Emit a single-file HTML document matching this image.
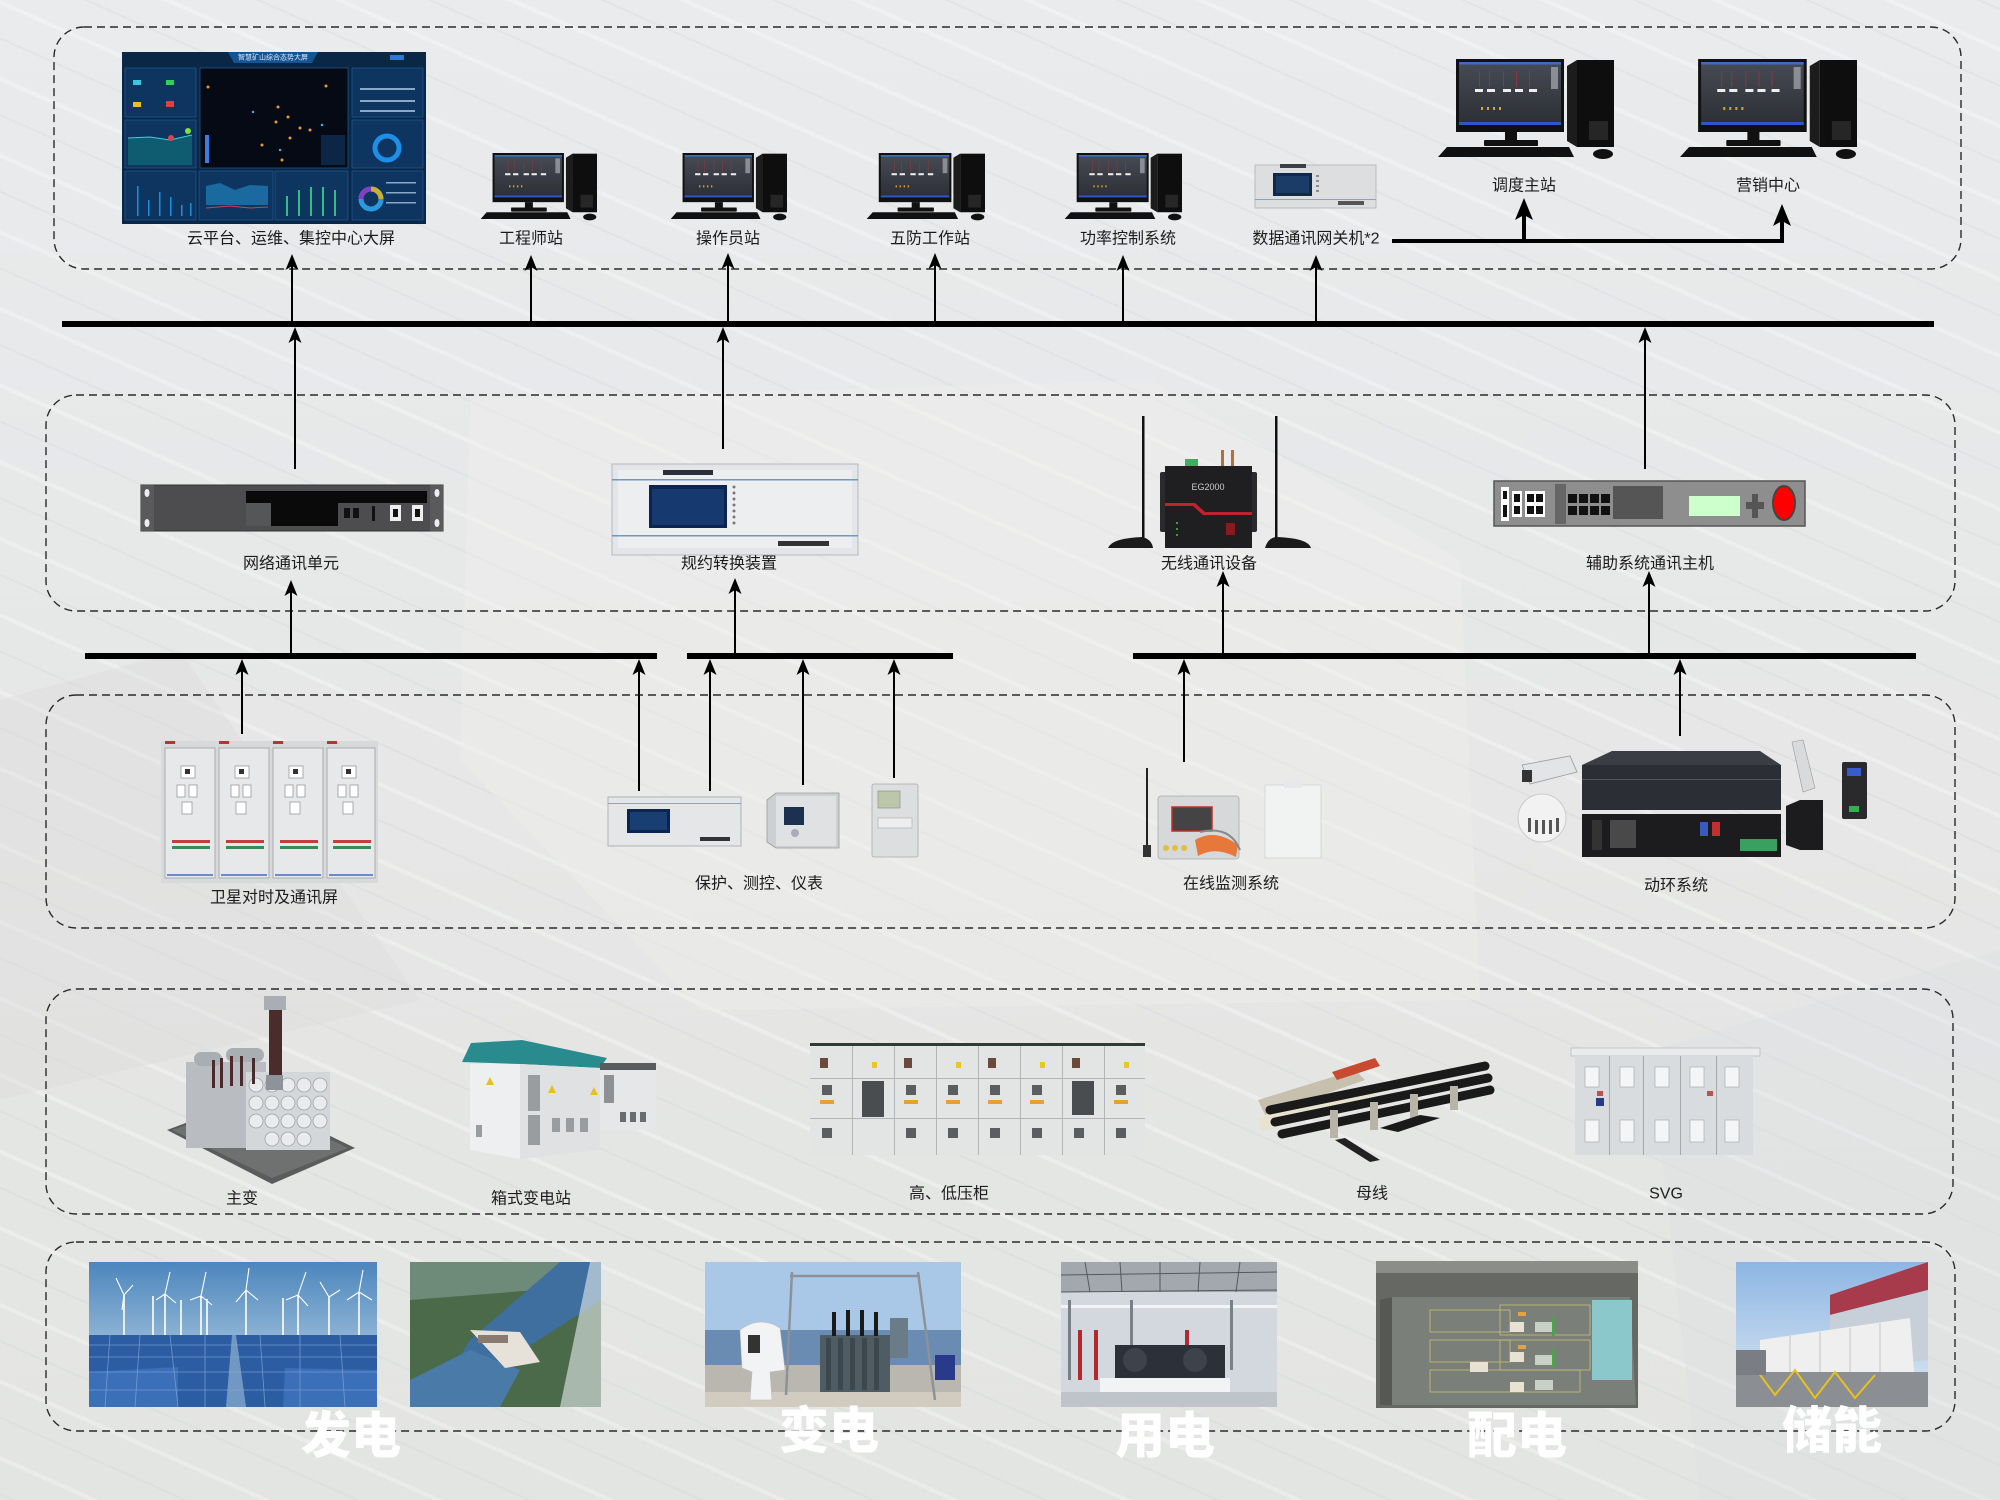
<!DOCTYPE html>
<html><head><meta charset="utf-8"><style>
html,body{margin:0;padding:0;background:#e5e7e7;}
svg{display:block;}
text{font-family:"Liberation Sans","Noto Sans CJK SC",sans-serif;}
.lb{font-size:16px;fill:#1c1c1c;text-anchor:middle;dominant-baseline:central;}
.big{font-size:50px;font-weight:900;fill:#ffffff;text-anchor:middle;dominant-baseline:central;font-family:"Liberation Sans","Noto Sans CJK SC",sans-serif;}
</style></head><body>
<svg width="2000" height="1500" viewBox="0 0 2000 1500" xmlns="http://www.w3.org/2000/svg">
<defs>
<pattern id="st" width="70" height="70" patternUnits="userSpaceOnUse" patternTransform="rotate(24)">
<rect width="70" height="4" fill="#ffffff" opacity=".28"/><rect y="34" width="70" height="2" fill="#c9cdd3" opacity=".22"/>
</pattern>
<linearGradient id="bgg" x1="0" y1="0" x2="0" y2="1">
<stop offset="0" stop-color="#e9ebed"/><stop offset=".5" stop-color="#e6e7e6"/><stop offset="1" stop-color="#e3e5e2"/>
</linearGradient>
<linearGradient id="scr" x1="0" y1="0" x2="0" y2="1"><stop offset="0" stop-color="#474b53"/><stop offset="1" stop-color="#2c2f36"/></linearGradient>
<linearGradient id="sky1" x1="0" y1="0" x2="0" y2="1"><stop offset="0" stop-color="#4c86bd"/><stop offset="1" stop-color="#c9dce9"/></linearGradient>
<linearGradient id="sky3" x1="0" y1="0" x2="0" y2="1"><stop offset="0" stop-color="#8db6e3"/><stop offset="1" stop-color="#dfe9f3"/></linearGradient>
<symbol id="pc" viewBox="0 0 177 101" preserveAspectRatio="none">
<polygon points="130,7 140,1 140,88 130,82" fill="#1c1c1c"/>
<rect x="140" y="1" width="37" height="87" fill="#0e0e0e"/>
<rect x="152" y="62" width="19" height="19" fill="#262626"/>
<rect x="19" y="0" width="108" height="73" fill="#111"/>
<rect x="22" y="3" width="102" height="62" fill="url(#scr)"/>
<rect x="22" y="3" width="102" height="2.5" fill="#3a6cc8"/>
<rect x="22" y="63" width="102" height="3" fill="#2f55c9"/>
<rect x="114" y="8" width="7" height="22" fill="#a9adb3" opacity=".7"/>
<g fill="#8a3a3a"><rect x="42" y="12" width="1" height="16"/><rect x="52" y="12" width="1" height="16"/><rect x="66" y="12" width="1" height="16"/><rect x="79" y="12" width="1" height="16"/><rect x="92" y="12" width="1" height="16"/></g>
<g fill="#eeeeee"><rect x="38" y="30" width="8" height="3"/><rect x="50" y="30" width="8" height="3"/><rect x="66" y="30" width="8" height="3"/><rect x="78" y="30" width="8" height="3"/><rect x="92" y="30" width="8" height="3"/></g>
<g fill="#e0a030"><rect x="44" y="48" width="2" height="3"/><rect x="50" y="48" width="2" height="3"/><rect x="56" y="48" width="2" height="3"/><rect x="62" y="48" width="2" height="3"/></g>
<rect x="68" y="73" width="12" height="10" fill="#111"/>
<rect x="47" y="81" width="54" height="6" rx="1" fill="#111"/>
<polygon points="1,98 10,88 132,88 137,98" fill="#111"/>
<ellipse cx="166" cy="95" rx="10" ry="5" fill="#111"/>
</symbol>
</defs>

<!-- background -->
<rect width="2000" height="1500" fill="url(#bgg)"/>
<rect width="2000" height="1500" fill="url(#st)"/>
<polygon points="470,400 1150,380 1460,560 1480,1000 700,1010 460,760" fill="#f0f0ee" opacity=".35"/>
<polygon points="0,700 180,650 420,1000 0,1100" fill="#d9dbda" opacity=".35"/>
<polygon points="1650,1050 2000,950 2000,1500 1700,1500" fill="#dcdfe2" opacity=".3"/>

<!-- dashed boxes -->
<g fill="none" stroke="#2a2a2a" stroke-width="1.4" stroke-dasharray="8 5">
<rect x="54" y="27" width="1907" height="242" rx="30"/>
<rect x="46" y="395" width="1909" height="216" rx="30"/>
<rect x="46" y="695" width="1909" height="233" rx="30"/>
<rect x="46" y="989" width="1907" height="225" rx="30"/>
<rect x="46" y="1242" width="1909" height="189" rx="30"/>
</g>

<!-- big screen -->
<g>
<rect x="122" y="52" width="304" height="172" fill="#0a2746"/>
<polygon points="228,52 318,52 312,63 234,63" fill="#155391"/>
<text x="273" y="58" font-size="7" fill="#d8ecff" text-anchor="middle" dominant-baseline="central">智慧矿山综合态势大屏</text>
<rect x="390" y="55" width="14" height="5" fill="#2e78d8"/>
<g fill="#0e355f" stroke="#1e5c98" stroke-width=".7">
<rect x="125" y="68" width="71" height="49"/><rect x="125" y="120" width="71" height="48"/><rect x="125" y="171" width="71" height="49"/>
<rect x="352" y="68" width="71" height="49"/><rect x="352" y="120" width="71" height="48"/><rect x="352" y="171" width="71" height="49"/>
<rect x="199" y="171" width="74" height="49"/><rect x="275" y="171" width="73" height="49"/>
</g>
<rect x="200" y="68" width="148" height="100" fill="#050a15" stroke="#1e5c98" stroke-width=".7"/>
<g fill="#e89a2a"><circle cx="208" cy="87" r="1.5"/><circle cx="278" cy="107" r="1.5"/><circle cx="288" cy="117" r="1.5"/><circle cx="276" cy="122" r="1.5"/><circle cx="300" cy="128" r="1.5"/><circle cx="290" cy="138" r="1.5"/><circle cx="310" cy="130" r="1.5"/><circle cx="262" cy="145" r="1.5"/><circle cx="326" cy="86" r="1.5"/><circle cx="282" cy="160" r="1.5"/></g>
<g fill="#38b8e0"><circle cx="253" cy="112" r="1.2"/><circle cx="322" cy="125" r="1.2"/><circle cx="280" cy="150" r="1.2"/></g>
<rect x="205" y="135" width="4" height="28" fill="#3a7fe0"/>
<rect x="321" y="135" width="24" height="30" fill="#0c2746"/>
<g fill="#3ac6e0"><rect x="133" y="80" width="8" height="5"/></g><g fill="#30d060"><rect x="166" y="80" width="8" height="5"/></g>
<g fill="#e8c020"><rect x="133" y="102" width="8" height="5"/></g><g fill="#e04040"><rect x="166" y="101" width="8" height="6"/></g>
<polygon points="128,138 150,137 170,140 192,135 192,165 128,165" fill="#0f5c70"/>
<polyline points="128,138 150,137 170,140 192,135" fill="none" stroke="#3ad0e0" stroke-width="1"/>
<circle cx="171" cy="138" r="3" fill="#e04050"/><circle cx="188" cy="131" r="3" fill="#80e040"/>
<g fill="#1a90e0"><rect x="137" y="186" width="1.5" height="30"/><rect x="148" y="200" width="1.5" height="16"/><rect x="159" y="192" width="1.5" height="24"/><rect x="170" y="197" width="1.5" height="19"/><rect x="181" y="205" width="1.5" height="11"/><rect x="190" y="203" width="1.5" height="13"/></g>
<polygon points="206,186 220,183 235,190 250,185 268,186 268,205 206,205" fill="#1a6aa0"/>
<polyline points="206,208 230,206 250,208 268,207" fill="none" stroke="#d04050" stroke-width="1"/>
<g fill="#30c080"><rect x="286" y="196" width="2" height="20"/><rect x="298" y="190" width="2" height="26"/><rect x="310" y="187" width="2" height="29"/><rect x="322" y="187" width="2" height="29"/><rect x="334" y="190" width="2" height="26"/></g>
<circle cx="387" cy="148" r="12" fill="none" stroke="#1d8fe8" stroke-width="5"/>
<circle cx="371" cy="199" r="10" fill="none" stroke="#2a9ae0" stroke-width="5"/>
<path d="M371 189 A10 10 0 0 1 381 199" fill="none" stroke="#c8b030" stroke-width="5"/>
<path d="M361 199 A10 10 0 0 1 371 189" fill="none" stroke="#8040c0" stroke-width="5"/>
<g fill="#8aa8c8"><rect x="360" y="88" width="55" height="2"/><rect x="360" y="100" width="55" height="2"/><rect x="360" y="110" width="55" height="2"/><rect x="386" y="182" width="30" height="1.5"/><rect x="386" y="192" width="30" height="1.5"/><rect x="386" y="202" width="30" height="1.5"/></g>
</g>

<!-- monitors -->
<use href="#pc" x="480" y="153" width="117" height="68"/>
<use href="#pc" x="670" y="153" width="117" height="68"/>
<use href="#pc" x="866" y="153" width="119" height="68"/>
<use href="#pc" x="1064" y="153" width="118" height="68"/>
<use href="#pc" x="1437" y="59" width="177" height="101"/>
<use href="#pc" x="1679" y="59" width="178" height="101"/>

<!-- gateway device -->
<g>
<rect x="1255" y="165" width="121" height="43" fill="#dcdee0" stroke="#b9bcbf" stroke-width="1"/>
<rect x="1280" y="164" width="26" height="4" fill="#3a3f48"/>
<rect x="1273" y="173" width="39" height="23" fill="#10284a"/>
<rect x="1276" y="176" width="33" height="17" fill="#1c3c68"/>
<g fill="#8a8d90"><rect x="1316" y="175" width="3" height="2"/><rect x="1316" y="180" width="3" height="2"/><rect x="1316" y="185" width="3" height="2"/><rect x="1316" y="190" width="3" height="2"/></g>
<rect x="1255" y="199" width="121" height="1" fill="#7ea8d0"/>
<rect x="1338" y="201" width="26" height="4" fill="#555"/>
</g>

<!-- network comm unit -->
<g>
<rect x="141" y="485" width="302" height="46" fill="#4d4d4f" stroke="#333" stroke-width="1"/>
<rect x="141" y="485" width="13" height="46" fill="#5a5a5c"/><rect x="430" y="485" width="13" height="46" fill="#5a5a5c"/>
<ellipse cx="147" cy="493" rx="2.5" ry="4" fill="#eee"/><ellipse cx="147" cy="523" rx="2.5" ry="4" fill="#eee"/>
<ellipse cx="437" cy="493" rx="2.5" ry="4" fill="#eee"/><ellipse cx="437" cy="523" rx="2.5" ry="4" fill="#eee"/>
<rect x="246" y="491" width="181" height="12" fill="#0a0a0a"/>
<rect x="271" y="491" width="67" height="35" fill="#0a0a0a"/>
<rect x="246" y="503" width="25" height="23" fill="#555658"/>
<rect x="344" y="508" width="6" height="10" fill="#111"/><rect x="353" y="508" width="6" height="10" fill="#111"/>
<rect x="372" y="506" width="3" height="15" fill="#111"/>
<rect x="390" y="505" width="11" height="16" fill="#eee"/><rect x="393" y="509" width="5" height="8" fill="#111"/>
<rect x="412" y="505" width="11" height="16" fill="#eee"/><rect x="415" y="509" width="5" height="8" fill="#111"/>
</g>

<!-- protocol converter -->
<g>
<rect x="612" y="464" width="246" height="91" fill="#e3e5e8" stroke="#b5b8bc" stroke-width="1"/>
<rect x="618" y="470" width="234" height="78" fill="#eceef0"/>
<rect x="663" y="470" width="50" height="5" fill="#2a2f38"/>
<rect x="612" y="479" width="246" height="1.5" fill="#6a9ac8"/>
<rect x="612" y="535" width="246" height="1.5" fill="#6a9ac8"/>
<rect x="649" y="485" width="78" height="43" fill="#0c2450"/>
<rect x="652" y="489" width="72" height="36" fill="#163a70"/>
<g fill="#777"><circle cx="734" cy="487" r="1.5"/><circle cx="734" cy="493" r="1.5"/><circle cx="734" cy="499" r="1.5"/><circle cx="734" cy="505" r="1.5"/><circle cx="734" cy="511" r="1.5"/><circle cx="734" cy="517" r="1.5"/><circle cx="734" cy="523" r="1.5"/></g>
<rect x="778" y="541" width="51" height="5" fill="#333"/>
</g>

<!-- wireless -->
<g>
<rect x="1142" y="416" width="2.5" height="128" fill="#111"/>
<rect x="1275" y="416" width="2.5" height="128" fill="#111"/>
<path d="M1108 548 Q1112 538 1143 537 Q1152 540 1153 548 Z" fill="#1a1a1a"/>
<path d="M1265 548 Q1268 538 1276 537 Q1308 538 1311 548 Z" fill="#1a1a1a"/>
<rect x="1185" y="459" width="13" height="8" fill="#3ab060"/>
<rect x="1221" y="450" width="3" height="16" fill="#b07040"/><rect x="1231" y="450" width="3" height="16" fill="#b07040"/>
<rect x="1160" y="472" width="97" height="60" fill="#2a2a2c" rx="2"/>
<rect x="1165" y="466" width="87" height="82" fill="#1f1f21"/>
<text x="1208" y="487" font-size="9" fill="#ccc" text-anchor="middle" dominant-baseline="central">EG2000</text>
<polygon points="1165,503 1195,503 1205,512 1252,512 1252,515 1203,515 1193,506 1165,506" fill="#c02030"/>
<rect x="1226" y="523" width="9" height="12" fill="#8a1a20"/>
<g fill="#30a040"><rect x="1176" y="522" width="2" height="2"/><rect x="1176" y="528" width="2" height="2"/><rect x="1176" y="534" width="2" height="2"/></g>
</g>

<!-- aux comm host -->
<g>
<rect x="1494" y="481" width="311" height="45" fill="#8e8e8e" stroke="#555" stroke-width="1.5"/>
<rect x="1501" y="487" width="8" height="34" fill="#fff"/><rect x="1503" y="491" width="4" height="8" fill="#111"/><rect x="1503" y="505" width="4" height="12" fill="#111"/>
<rect x="1512" y="491" width="10" height="26" fill="#fff"/><rect x="1514" y="494" width="6" height="8" fill="#111"/><rect x="1514" y="506" width="6" height="8" fill="#111"/>
<rect x="1525" y="491" width="20" height="26" fill="#fff"/><rect x="1527" y="494" width="7" height="8" fill="#111"/><rect x="1536" y="494" width="7" height="8" fill="#111"/><rect x="1527" y="506" width="7" height="8" fill="#111"/><rect x="1536" y="506" width="7" height="8" fill="#111"/>
<rect x="1555" y="484" width="11" height="40" fill="#666"/>
<g fill="#111"><rect x="1568" y="494" width="9" height="9"/><rect x="1579" y="494" width="9" height="9"/><rect x="1590" y="494" width="9" height="9"/><rect x="1601" y="494" width="9" height="9"/><rect x="1568" y="506" width="9" height="9"/><rect x="1579" y="506" width="9" height="9"/><rect x="1590" y="506" width="9" height="9"/><rect x="1601" y="506" width="9" height="9"/></g>
<rect x="1613" y="486" width="50" height="33" fill="#555"/>
<rect x="1689" y="496" width="51" height="20" fill="#ccffcc"/>
<rect x="1752" y="494" width="6" height="24" fill="#555"/><rect x="1746" y="502" width="18" height="7" fill="#555"/>
<ellipse cx="1784" cy="503" rx="11" ry="17" fill="#ff0000" stroke="#444" stroke-width="2"/>
</g>

<!-- satellite clock cabinets -->
<g>
<rect x="161" y="741" width="217" height="142" fill="#d7d9da"/>
<g fill="#e6e8e9" stroke="#a9acae" stroke-width="1">
<rect x="165" y="748" width="50" height="130"/><rect x="219" y="748" width="50" height="130"/><rect x="273" y="748" width="50" height="130"/><rect x="327" y="748" width="48" height="130"/>
</g>
<g fill="#c03030"><rect x="165" y="741" width="10" height="3"/><rect x="219" y="741" width="10" height="3"/><rect x="273" y="741" width="10" height="3"/><rect x="327" y="741" width="10" height="3"/></g>
<g fill="#fff" stroke="#999" stroke-width=".8">
<rect x="181" y="766" width="14" height="12"/><rect x="235" y="766" width="14" height="12"/><rect x="289" y="766" width="14" height="12"/><rect x="342" y="766" width="14" height="12"/>
<rect x="177" y="785" width="8" height="12"/><rect x="189" y="785" width="8" height="12"/><rect x="231" y="785" width="8" height="12"/><rect x="243" y="785" width="8" height="12"/><rect x="285" y="785" width="8" height="12"/><rect x="297" y="785" width="8" height="12"/><rect x="338" y="785" width="8" height="12"/><rect x="350" y="785" width="8" height="12"/>
<rect x="182" y="802" width="10" height="12"/><rect x="236" y="802" width="10" height="12"/><rect x="290" y="802" width="10" height="12"/><rect x="343" y="802" width="10" height="12"/>
</g>
<g fill="#333"><rect x="185" y="769" width="5" height="5"/><rect x="239" y="769" width="5" height="5"/><rect x="293" y="769" width="5" height="5"/><rect x="346" y="769" width="5" height="5"/></g>
<g fill="#c04040"><rect x="172" y="840" width="38" height="3"/><rect x="226" y="840" width="38" height="3"/><rect x="280" y="840" width="38" height="3"/><rect x="333" y="840" width="38" height="3"/></g>
<g fill="#3a8a5a"><rect x="172" y="846" width="38" height="3"/><rect x="226" y="846" width="38" height="3"/><rect x="280" y="846" width="38" height="3"/><rect x="333" y="846" width="38" height="3"/></g>
<g fill="#6a8ac8"><rect x="167" y="874" width="46" height="2"/><rect x="221" y="874" width="46" height="2"/><rect x="275" y="874" width="46" height="2"/><rect x="329" y="874" width="44" height="2"/></g>
</g>

<!-- protection devices -->
<g>
<rect x="608" y="797" width="133" height="49" fill="#e4e6e8" stroke="#b0b3b6" stroke-width="1"/>
<rect x="608" y="803" width="133" height="1" fill="#7ea8d0"/>
<rect x="627" y="809" width="43" height="24" fill="#0c2450"/>
<rect x="630" y="812" width="37" height="18" fill="#183e72"/>
<rect x="700" y="837" width="30" height="4" fill="#333"/>
<polygon points="767,800 776,793 839,793 839,848 776,848 767,842" fill="#cdd0d3" stroke="#999" stroke-width=".8"/>
<rect x="776" y="796" width="60" height="50" fill="#dfe1e3"/>
<rect x="784" y="807" width="20" height="18" fill="#1c3050"/>
<circle cx="795" cy="833" r="4" fill="#aab"/>
<rect x="872" y="784" width="46" height="73" rx="2" fill="#dcdedf" stroke="#aaa" stroke-width=".8"/>
<rect x="878" y="791" width="22" height="17" fill="#bcc6a8" stroke="#888" stroke-width=".6"/>
<rect x="878" y="818" width="34" height="10" fill="#eee" stroke="#aaa" stroke-width=".6"/>
</g>

<!-- online monitoring -->
<g>
<rect x="1146" y="768" width="2" height="88" fill="#222"/>
<rect x="1143" y="845" width="8" height="12" fill="#333"/>
<rect x="1158" y="796" width="81" height="63" rx="3" fill="#d6d8da" stroke="#aaa" stroke-width=".8"/>
<rect x="1172" y="807" width="40" height="24" fill="#444" stroke="#c03020" stroke-width="1.5"/>
<g fill="#e0c040"><circle cx="1166" cy="848" r="3"/><circle cx="1175" cy="848" r="3"/><circle cx="1184" cy="848" r="3"/></g>
<path d="M1195 840 Q1215 828 1238 845 L1236 857 Q1215 846 1198 856 Z" fill="#e8783a"/>
<path d="M1200 832 Q1230 825 1240 850" fill="none" stroke="#888" stroke-width="2"/>
<rect x="1265" y="785" width="56" height="73" fill="#f1f2f2" stroke="#d0d2d4" stroke-width=".8"/>
<rect x="1284" y="780" width="18" height="8" fill="#e8e8ea"/>
</g>

<!-- power environment system -->
<g>
<polygon points="1582,765 1612,751 1760,751 1781,765" fill="#3a3d44"/>
<rect x="1582" y="765" width="199" height="45" fill="#2b2e34"/>
<rect x="1582" y="779" width="199" height="1" fill="#555"/>
<rect x="1582" y="814" width="199" height="43" fill="#1c1c1e"/>
<rect x="1592" y="820" width="10" height="30" fill="#333"/>
<rect x="1610" y="820" width="26" height="28" fill="#555" opacity=".8"/>
<rect x="1700" y="822" width="8" height="14" fill="#3a5ac0"/><rect x="1712" y="822" width="8" height="14" fill="#c03030"/>
<rect x="1740" y="839" width="37" height="12" fill="#3aa060"/>
<path d="M1522 765 L1570 756 L1577 772 L1530 784 Z" fill="#e2e4e6" stroke="#999" stroke-width=".8"/>
<rect x="1522" y="770" width="10" height="12" fill="#333"/>
<ellipse cx="1542" cy="818" rx="24" ry="24" fill="#f2f2f2" stroke="#ccc" stroke-width="1"/>
<g fill="#555"><rect x="1528" y="818" width="3" height="14"/><rect x="1535" y="820" width="3" height="14"/><rect x="1542" y="820" width="3" height="14"/><rect x="1549" y="820" width="3" height="14"/><rect x="1556" y="818" width="3" height="14"/></g>
<path d="M1792 742 L1803 740 L1815 788 L1803 792 Z" fill="#d8dadc" stroke="#999" stroke-width=".6"/>
<polygon points="1786,806 1800,800 1823,800 1823,850 1800,850 1786,845" fill="#1c1c1e"/>
<rect x="1842" y="762" width="25" height="57" rx="2" fill="#2a2a2c"/>
<rect x="1847" y="768" width="14" height="8" fill="#3a5ad0"/>
<rect x="1849" y="806" width="10" height="6" fill="#30b050"/>
</g>

<!-- row 4 equipment -->
<g>
<polygon points="167,1130 252,1098 355,1148 272,1184" fill="#5a5b5c"/>
<polygon points="172,1130 252,1102 348,1148 272,1178" fill="#6f7070"/>
<rect x="186" y="1062" width="80" height="86" fill="#b9bdc1"/>
<rect x="246" y="1072" width="84" height="78" fill="#d4d7da"/>
<g fill="#e9ebed" stroke="#9ea3a8" stroke-width=".8">
<circle cx="256" cy="1085" r="7"/><circle cx="272" cy="1085" r="7"/><circle cx="288" cy="1085" r="7"/><circle cx="304" cy="1085" r="7"/><circle cx="320" cy="1085" r="7"/>
<circle cx="256" cy="1103" r="7"/><circle cx="272" cy="1103" r="7"/><circle cx="288" cy="1103" r="7"/><circle cx="304" cy="1103" r="7"/><circle cx="320" cy="1103" r="7"/>
<circle cx="256" cy="1121" r="7"/><circle cx="272" cy="1121" r="7"/><circle cx="288" cy="1121" r="7"/><circle cx="304" cy="1121" r="7"/><circle cx="320" cy="1121" r="7"/>
<circle cx="272" cy="1139" r="7"/><circle cx="288" cy="1139" r="7"/><circle cx="304" cy="1139" r="7"/>
</g>
<rect x="194" y="1052" width="28" height="14" rx="7" fill="#a9aeb3"/>
<rect x="226" y="1048" width="38" height="14" rx="7" fill="#a9aeb3"/>
<g fill="#4a2a2a"><rect x="212" y="1060" width="3" height="28"/><rect x="220" y="1058" width="3" height="30"/><rect x="230" y="1056" width="3" height="30"/><rect x="240" y="1056" width="3" height="30"/><rect x="252" y="1058" width="3" height="26"/></g>
<rect x="269" y="1008" width="13" height="82" fill="#4b2b2b"/>
<rect x="264" y="996" width="22" height="14" fill="#a8aeb4"/>
<rect x="266" y="1075" width="17" height="15" fill="#8d9398"/>
</g>
<g>
<polygon points="462,1062 471,1043 522,1040 607,1058 600,1068 520,1064" fill="#2a8b8e"/>
<polygon points="470,1064 520,1064 520,1159 470,1150" fill="#eeeff0"/>
<polygon points="520,1064 600,1068 600,1150 520,1159" fill="#dfe1e2"/>
<g fill="#9a9da0"><rect x="528" y="1075" width="12" height="36"/><rect x="528" y="1115" width="12" height="30"/><rect x="552" y="1118" width="8" height="14"/><rect x="566" y="1118" width="8" height="14"/><rect x="580" y="1118" width="8" height="14"/><rect x="476" y="1125" width="6" height="12"/></g>
<g fill="#e8c020"><polygon points="486,1085 490,1077 494,1085"/><polygon points="548,1093 552,1085 556,1093"/><polygon points="590,1095 594,1087 598,1095"/></g>
<rect x="600" y="1063" width="56" height="7" fill="#5a5d60"/>
<rect x="600" y="1070" width="56" height="60" fill="#e6e7e8"/>
<rect x="604" y="1075" width="10" height="28" fill="#8e9194"/>
<g fill="#6a6d70"><rect x="620" y="1112" width="6" height="10"/><rect x="630" y="1112" width="6" height="10"/><rect x="640" y="1112" width="6" height="10"/></g>
</g>
<g>
<rect x="810" y="1043" width="335" height="112" fill="#e3e5e5"/>
<rect x="810" y="1043" width="335" height="3" fill="#2f3d36"/>
<g fill="#b2b6b6"><rect x="852" y="1046" width="1" height="109"/><rect x="894" y="1046" width="1" height="109"/><rect x="936" y="1046" width="1" height="109"/><rect x="978" y="1046" width="1" height="109"/><rect x="1020" y="1046" width="1" height="109"/><rect x="1062" y="1046" width="1" height="109"/><rect x="1104" y="1046" width="1" height="109"/><rect x="810" y="1078" width="335" height="1"/><rect x="810" y="1118" width="335" height="1"/></g>
<g fill="#5a5e5e"><rect x="822" y="1085" width="10" height="10"/><rect x="906" y="1085" width="10" height="10"/><rect x="948" y="1085" width="10" height="10"/><rect x="990" y="1085" width="10" height="10"/><rect x="1032" y="1085" width="10" height="10"/><rect x="1116" y="1085" width="10" height="10"/><rect x="822" y="1128" width="10" height="10"/><rect x="906" y="1128" width="10" height="10"/><rect x="948" y="1128" width="10" height="10"/><rect x="990" y="1128" width="10" height="10"/><rect x="1032" y="1128" width="10" height="10"/><rect x="1074" y="1128" width="10" height="10"/><rect x="1116" y="1128" width="10" height="10"/></g>
<rect x="862" y="1081" width="22" height="36" fill="#4a4d4f"/>
<rect x="1072" y="1081" width="22" height="34" fill="#4a4d4f"/>
<g fill="#e8a030"><rect x="820" y="1100" width="14" height="4"/><rect x="904" y="1100" width="14" height="4"/><rect x="946" y="1100" width="14" height="4"/><rect x="988" y="1100" width="14" height="4"/><rect x="1030" y="1100" width="14" height="4"/><rect x="1114" y="1100" width="14" height="4"/></g>
<g fill="#e8c820"><rect x="872" y="1062" width="5" height="6"/><rect x="956" y="1062" width="5" height="6"/><rect x="1040" y="1062" width="5" height="6"/><rect x="1124" y="1062" width="5" height="6"/></g>
<g fill="#6a4a3a"><rect x="820" y="1058" width="8" height="10"/><rect x="904" y="1058" width="8" height="10"/><rect x="988" y="1058" width="8" height="10"/><rect x="1072" y="1058" width="8" height="10"/></g>
</g>
<g>
<polygon points="1258,1100 1355,1070 1365,1080 1265,1115" fill="#c8c0ae"/>
<polygon points="1258,1118 1370,1085 1375,1095 1262,1132" fill="#e8e2d0"/>
<polygon points="1332,1072 1375,1058 1380,1066 1337,1080" fill="#c84a30"/>
<g stroke="#1a1a1a" stroke-linecap="round">
<line x1="1270" y1="1110" x2="1485" y2="1066" stroke-width="9"/>
<line x1="1275" y1="1122" x2="1488" y2="1078" stroke-width="9"/>
<line x1="1282" y1="1134" x2="1490" y2="1090" stroke-width="9"/>
</g>
<g fill="#b8b4a8"><rect x="1330" y="1110" width="8" height="28"/><rect x="1370" y="1102" width="8" height="28"/><rect x="1410" y="1094" width="8" height="26"/><rect x="1450" y="1086" width="8" height="24"/></g>
<polygon points="1380,1128 1420,1115 1440,1118 1398,1132" fill="#1a1a1a"/>
<polygon points="1335,1140 1345,1138 1380,1160 1370,1162" fill="#222"/>
</g>
<g>
<rect x="1571" y="1048" width="189" height="8" fill="#e9ebec" stroke="#b8bbbe" stroke-width=".8"/>
<rect x="1575" y="1056" width="178" height="99" fill="#d9dcde"/>
<g fill="#a5a9ad"><rect x="1609" y="1056" width="1" height="99"/><rect x="1643" y="1056" width="1" height="99"/><rect x="1680" y="1056" width="1" height="99"/><rect x="1716" y="1056" width="1" height="99"/></g>
<g fill="#f4f5f6" stroke="#a0a4a8" stroke-width=".6"><rect x="1585" y="1067" width="14" height="20"/><rect x="1620" y="1067" width="14" height="20"/><rect x="1655" y="1067" width="14" height="20"/><rect x="1690" y="1067" width="14" height="20"/><rect x="1725" y="1067" width="14" height="20"/>
<rect x="1585" y="1120" width="14" height="22"/><rect x="1620" y="1120" width="14" height="22"/><rect x="1655" y="1120" width="14" height="22"/><rect x="1690" y="1120" width="14" height="22"/><rect x="1725" y="1120" width="14" height="22"/></g>
<rect x="1596" y="1098" width="8" height="8" fill="#2a3a80"/>
<g fill="#c05050"><rect x="1597" y="1091" width="6" height="5"/><rect x="1707" y="1091" width="6" height="5"/></g>
</g>

<!-- row 5 photos -->
<g>
<rect x="89" y="1262" width="288" height="145" fill="url(#sky1)"/>
<g stroke="#ffffff" stroke-width="1.6">
<line x1="124" y1="1295" x2="124" y2="1338"/><line x1="153" y1="1296" x2="153" y2="1338"/><line x1="165" y1="1294" x2="165" y2="1338"/><line x1="181" y1="1300" x2="181" y2="1338"/><line x1="201" y1="1296" x2="201" y2="1338"/><line x1="207" y1="1299" x2="207" y2="1338"/><line x1="246" y1="1290" x2="246" y2="1338"/><line x1="283" y1="1298" x2="283" y2="1338"/><line x1="298" y1="1295" x2="298" y2="1338"/><line x1="329" y1="1297" x2="329" y2="1338"/><line x1="359" y1="1292" x2="359" y2="1338"/>
</g>
<g stroke="#ffffff" stroke-width="1.1">
<path d="M124 1295 L116 1278 M124 1295 L133 1285 M124 1295 L122 1310"/><path d="M165 1294 L170 1272 M165 1294 L156 1300 M165 1294 L176 1303"/><path d="M201 1296 L206 1272 M201 1296 L190 1300 M201 1296 L212 1305"/><path d="M246 1290 L249 1268 M246 1290 L236 1302 M246 1290 L258 1300"/><path d="M298 1295 L306 1272 M298 1295 L286 1300 M298 1295 L308 1306"/><path d="M359 1292 L363 1270 M359 1292 L347 1300 M359 1292 L372 1300"/><path d="M329 1297 L320 1282 M329 1297 L340 1290"/>
</g>
<rect x="89" y="1335" width="288" height="72" fill="#2c5da3"/>
<polygon points="89,1372 178,1367 178,1407 89,1407" fill="#3b6fb8"/>
<polygon points="285,1368 377,1370 377,1407 283,1407" fill="#3b6fb8"/>
<g stroke="#7fa6d8" stroke-width=".8" opacity=".8">
<line x1="89" y1="1345" x2="377" y2="1345"/><line x1="89" y1="1357" x2="377" y2="1357"/><line x1="89" y1="1372" x2="377" y2="1372"/><line x1="89" y1="1390" x2="377" y2="1390"/>
<line x1="110" y1="1335" x2="105" y2="1407"/><line x1="140" y1="1335" x2="135" y2="1407"/><line x1="170" y1="1335" x2="178" y2="1407"/><line x1="205" y1="1335" x2="205" y2="1407"/><line x1="260" y1="1335" x2="265" y2="1407"/><line x1="300" y1="1335" x2="300" y2="1407"/><line x1="340" y1="1335" x2="345" y2="1407"/>
</g>
<polygon points="232,1335 236,1335 246,1407 226,1407" fill="#8fb0d0" opacity=".7"/>
</g>
<g>
<rect x="410" y="1262" width="191" height="145" fill="#4b6a4a"/>
<polygon points="410,1262 601,1262 601,1285 410,1300" fill="#6e8a78"/>
<polygon points="560,1262 601,1262 601,1300 520,1352 480,1407 430,1407 470,1340" fill="#3e6f9e"/>
<polygon points="410,1380 470,1350 520,1370 500,1407 410,1407" fill="#4a7aa8"/>
<polygon points="470,1330 520,1332 540,1362 505,1368" fill="#e6e2da"/>
<rect x="478" y="1335" width="30" height="8" fill="#8a7a70"/>
<polygon points="590,1262 601,1262 601,1407 560,1407" fill="#e8ecee" opacity=".6"/>
</g>
<g>
<rect x="705" y="1262" width="256" height="145" fill="#a9c8e8"/>
<rect x="705" y="1330" width="256" height="35" fill="#6a8bb2"/>
<rect x="705" y="1365" width="256" height="42" fill="#b9b7b0"/>
<rect x="705" y="1392" width="256" height="15" fill="#d2ccc0"/>
<g stroke="#8d9297" stroke-width="2.5" fill="none"><line x1="792" y1="1272" x2="786" y2="1395"/><line x1="918" y1="1272" x2="935" y2="1400"/><line x1="790" y1="1276" x2="920" y2="1276"/></g>
<rect x="820" y="1335" width="70" height="57" fill="#4f5c63"/>
<g fill="#3c474e"><rect x="826" y="1338" width="5" height="52"/><rect x="838" y="1338" width="5" height="52"/><rect x="850" y="1338" width="5" height="52"/><rect x="862" y="1338" width="5" height="52"/><rect x="874" y="1338" width="5" height="52"/></g>
<g fill="#1a1a1a"><rect x="832" y="1312" width="4" height="24"/><rect x="846" y="1310" width="4" height="26"/><rect x="860" y="1310" width="4" height="26"/><rect x="874" y="1312" width="4" height="24"/></g>
<rect x="890" y="1318" width="18" height="40" fill="#6a7c88"/>
<path d="M740 1330 Q760 1315 780 1328 L785 1370 L770 1372 L772 1400 L750 1400 L752 1372 L742 1368 Z" fill="#f2f3f4" stroke="#bbb" stroke-width=".6"/>
<rect x="748" y="1335" width="12" height="18" fill="#333"/>
<rect x="935" y="1355" width="20" height="25" fill="#2a3a8a"/>
</g>
<g>
<rect x="1061" y="1262" width="216" height="145" fill="#d3d8de"/>
<rect x="1061" y="1262" width="216" height="30" fill="#a3a8ae"/>
<g stroke="#555a60" stroke-width="1"><line x1="1061" y1="1275" x2="1277" y2="1272"/><line x1="1061" y1="1292" x2="1277" y2="1290"/><line x1="1085" y1="1262" x2="1090" y2="1292"/><line x1="1120" y1="1262" x2="1122" y2="1292"/><line x1="1160" y1="1262" x2="1160" y2="1292"/><line x1="1200" y1="1262" x2="1198" y2="1292"/><line x1="1240" y1="1262" x2="1236" y2="1292"/></g>
<rect x="1061" y="1305" width="216" height="3" fill="#f4f4f4"/>
<g fill="#b02a30"><rect x="1078" y="1330" width="4" height="50"/><rect x="1094" y="1330" width="4" height="50"/><rect x="1185" y="1330" width="4" height="45"/></g>
<g fill="#7a8088"><rect x="1068" y="1300" width="3" height="80"/><rect x="1130" y="1300" width="3" height="70"/><rect x="1230" y="1300" width="3" height="70"/></g>
<rect x="1115" y="1345" width="110" height="35" fill="#2c3038"/>
<circle cx="1135" cy="1360" r="12" fill="#3d424b"/><circle cx="1195" cy="1360" r="12" fill="#3d424b"/>
<rect x="1100" y="1378" width="130" height="14" fill="#f2f3f4"/>
<rect x="1061" y="1392" width="216" height="15" fill="#bfc4ca"/>
</g>
<g>
<rect x="1376" y="1261" width="262" height="147" fill="#666963"/>
<polygon points="1390,1297 1630,1297 1636,1405 1380,1405" fill="#7b7f79"/>
<rect x="1376" y="1261" width="262" height="12" fill="#8a8d88"/>
<g stroke="#c8c070" stroke-width=".8" fill="none"><rect x="1430" y="1310" width="80" height="22"/><rect x="1430" y="1340" width="80" height="22"/><rect x="1500" y="1305" width="90" height="30"/><rect x="1500" y="1340" width="90" height="30"/><rect x="1430" y="1370" width="150" height="22"/></g>
<rect x="1592" y="1300" width="40" height="80" fill="#8ac8cc"/>
<g fill="#e8e2d2"><rect x="1510" y="1322" width="14" height="10"/><rect x="1510" y="1352" width="14" height="10"/><rect x="1510" y="1382" width="14" height="10"/><rect x="1470" y="1362" width="18" height="10"/></g>
<g fill="#c8d0c8"><rect x="1535" y="1322" width="18" height="10"/><rect x="1535" y="1355" width="18" height="10"/><rect x="1535" y="1380" width="18" height="10"/></g>
<g fill="#e8a040"><rect x="1518" y="1312" width="8" height="4"/><rect x="1518" y="1345" width="8" height="4"/></g>
<g fill="#50a050"><rect x="1552" y="1318" width="3" height="18"/><rect x="1552" y="1350" width="3" height="18"/></g>
<polygon points="1380,1300 1392,1297 1392,1405 1380,1405" fill="#555853"/>
</g>
<g>
<rect x="1736" y="1262" width="192" height="145" fill="url(#sky3)"/>
<polygon points="1830,1295 1928,1262 1928,1290 1830,1315" fill="#a83b4b"/>
<polygon points="1830,1315 1928,1290 1928,1360 1830,1370" fill="#c7cfd8"/>
<polygon points="1760,1340 1910,1318 1915,1385 1760,1385" fill="#efefef"/>
<g stroke="#c0c4c8" stroke-width="1"><line x1="1790" y1="1336" x2="1790" y2="1385"/><line x1="1820" y1="1332" x2="1820" y2="1385"/><line x1="1850" y1="1328" x2="1850" y2="1385"/><line x1="1880" y1="1323" x2="1880" y2="1385"/></g>
<rect x="1736" y="1372" width="192" height="35" fill="#8b8f93"/>
<polyline points="1755,1368 1775,1395 1795,1370 1815,1398 1835,1372 1855,1398 1875,1375" fill="none" stroke="#e8c020" stroke-width="2"/>
<rect x="1736" y="1350" width="30" height="25" fill="#7a7e84"/>
</g>

<!-- buses -->
<g fill="#000">
<rect x="62" y="321" width="1872" height="6"/>
<rect x="85" y="653" width="572" height="6"/>
<rect x="687" y="653" width="266" height="6"/>
<rect x="1133" y="653" width="783" height="6"/>
<rect x="1392" y="239" width="392" height="4"/>
</g>

<!-- arrows -->
<g fill="#000" stroke="none">
<rect x="291" y="264" width="2" height="57"/><path d="M292 254 L285.5 270 L292 266 L298.5 270 Z"/>
<rect x="530" y="265" width="2" height="56"/><path d="M531 255 L524.5 271 L531 267 L537.5 271 Z"/>
<rect x="727" y="263" width="2" height="58"/><path d="M728 253 L721.5 269 L728 265 L734.5 269 Z"/>
<rect x="934" y="263" width="2" height="58"/><path d="M935 253 L928.5 269 L935 265 L941.5 269 Z"/>
<rect x="1122" y="265" width="2" height="56"/><path d="M1123 255 L1116.5 271 L1123 267 L1129.5 271 Z"/>
<rect x="1315" y="265" width="2" height="56"/><path d="M1316 255 L1309.5 271 L1316 267 L1322.5 271 Z"/>
<rect x="294" y="337" width="2" height="132"/><path d="M295 327 L288.5 343 L295 339 L301.5 343 Z"/>
<rect x="722" y="337" width="2" height="112"/><path d="M723 327 L716.5 343 L723 339 L729.5 343 Z"/>
<rect x="1644" y="337" width="2" height="132"/><path d="M1645 327 L1638.5 343 L1645 339 L1651.5 343 Z"/>
<rect x="290" y="590" width="2" height="63"/><path d="M291 580 L284.5 596 L291 592 L297.5 596 Z"/>
<rect x="734" y="588" width="2" height="65"/><path d="M735 578 L728.5 594 L735 590 L741.5 594 Z"/>
<rect x="1222" y="581" width="2" height="72"/><path d="M1223 571 L1216.5 587 L1223 583 L1229.5 587 Z"/>
<rect x="1648" y="581" width="2" height="72"/><path d="M1649 571 L1642.5 587 L1649 583 L1655.5 587 Z"/>
<rect x="241" y="669" width="2" height="65"/><path d="M242 659 L235.5 675 L242 671 L248.5 675 Z"/>
<rect x="638" y="669" width="2" height="122"/><path d="M639 659 L632.5 675 L639 671 L645.5 675 Z"/>
<rect x="709" y="669" width="2" height="122"/><path d="M710 659 L703.5 675 L710 671 L716.5 675 Z"/>
<rect x="802" y="669" width="2" height="116"/><path d="M803 659 L796.5 675 L803 671 L809.5 675 Z"/>
<rect x="893" y="669" width="2" height="109"/><path d="M894 659 L887.5 675 L894 671 L900.5 675 Z"/>
<rect x="1183" y="669" width="2" height="93"/><path d="M1184 659 L1177.5 675 L1184 671 L1190.5 675 Z"/>
<rect x="1679" y="669" width="2" height="67"/><path d="M1680 659 L1673.5 675 L1680 671 L1686.5 675 Z"/>
<rect x="1522" y="212" width="4" height="29"/><path d="M1524 198 L1515 220 L1524 215 L1533 220 Z"/>
<rect x="1780" y="218" width="4" height="23"/><path d="M1782 204 L1773 226 L1782 221 L1791 226 Z"/>
</g>

<!-- labels -->
<text class="lb" x="291" y="239">云平台、运维、集控中心大屏</text>
<text class="lb" x="531" y="239">工程师站</text>
<text class="lb" x="728" y="239">操作员站</text>
<text class="lb" x="930" y="239">五防工作站</text>
<text class="lb" x="1128" y="239">功率控制系统</text>
<text class="lb" x="1316" y="239">数据通讯网关机*2</text>
<text class="lb" x="1524" y="186">调度主站</text>
<text class="lb" x="1768" y="186">营销中心</text>
<text class="lb" x="291" y="564">网络通讯单元</text>
<text class="lb" x="729" y="564">规约转换装置</text>
<text class="lb" x="1209" y="564">无线通讯设备</text>
<text class="lb" x="1650" y="564">辅助系统通讯主机</text>
<text class="lb" x="274" y="898">卫星对时及通讯屏</text>
<text class="lb" x="759" y="884">保护、测控、仪表</text>
<text class="lb" x="1231" y="884">在线监测系统</text>
<text class="lb" x="1676" y="886">动环系统</text>
<text class="lb" x="242" y="1199">主变</text>
<text class="lb" x="531" y="1199">箱式变电站</text>
<text class="lb" x="949" y="1194">高、低压柜</text>
<text class="lb" x="1372" y="1194">母线</text>
<text class="lb" x="1666" y="1194">SVG</text>

<text class="big" x="351" y="1436">发电</text>
<text class="big" x="829" y="1431">变电</text>
<text class="big" x="1165" y="1436">用电</text>
<text class="big" x="1517" y="1436">配电</text>
<text class="big" x="1832" y="1431">储能</text>
</svg>
</body></html>
